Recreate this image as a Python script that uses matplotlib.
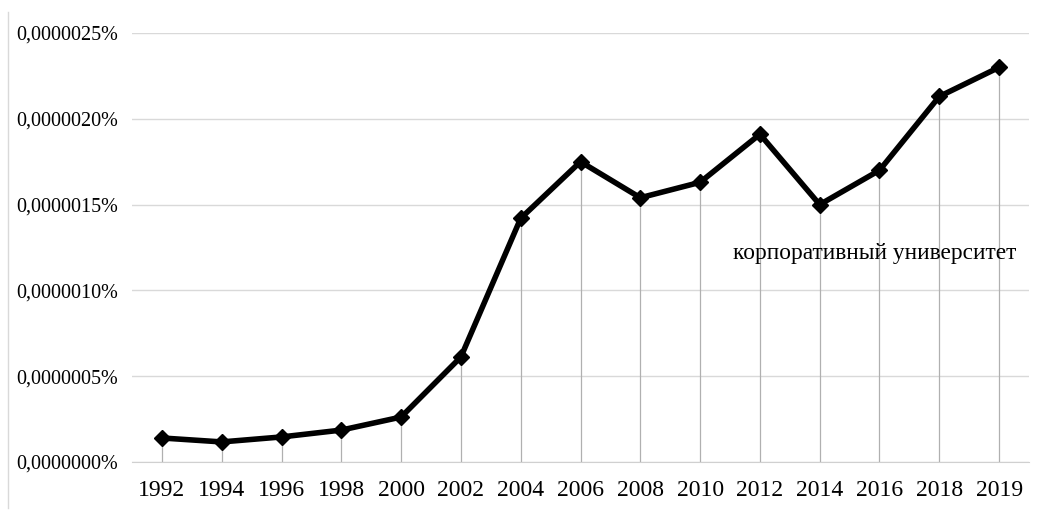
import matplotlib
matplotlib.use("Agg")
import matplotlib.pyplot as plt
from matplotlib.ticker import FuncFormatter
from matplotlib.lines import Line2D

plt.rcParams['font.family'] = ['Liberation Serif', 'DejaVu Serif']

years = ['1992', '1994', '1996', '1998', '2000', '2002', '2004', '2006',
         '2008', '2010', '2012', '2014', '2016', '2018', '2019']
# частота, % (×1e-7)
freq = [1.40, 1.17, 1.46, 1.86, 2.62, 6.12, 14.2, 17.5,
        15.4, 16.3, 19.1, 15.0, 17.0, 21.3, 23.0]
freq = [v * 1e-7 for v in freq]
label = 'корпоративный университет'

fig = plt.figure(figsize=(10.37, 5.11), dpi=100)
ax = fig.add_axes([132 / 1037, 1 - 462 / 511, (1029 - 132) / 1037, (462 - 33) / 511])

x = list(range(len(years)))
ax.vlines(x, 0, freq, color='#b0b0b0', lw=0.9, zorder=1)
ax.plot(x, freq, color='black', lw=4, marker='D', ms=8, zorder=3)

ax.set_xlim(-0.5, len(years) - 0.5)
ax.set_ylim(0, 2.5e-6)
ax.set_yticks([i * 0.5e-6 for i in range(6)])
ax.yaxis.set_major_formatter(FuncFormatter(
    lambda v, p: ('%.7f' % v).replace('.', ',') + '%'))
ax.set_xticks(x)
ax.set_xticklabels(years)
ax.grid(axis='y', color='#d9d9d9', lw=1)
ax.set_axisbelow(True)
for s in ['top', 'right', 'left']:
    ax.spines[s].set_visible(False)
ax.spines['bottom'].set_color('#d0d0d0')
ax.tick_params(axis='y', length=0, pad=10, labelsize=14.5)
ax.tick_params(axis='x', length=0, pad=13, labelsize=17)

ax.text(0.670, 0.487, label, transform=ax.transAxes, fontsize=16.8,
        ha='left', va='center')

fig.add_artist(Line2D([8 / 1037, 8 / 1037], [1 - 12 / 511, 1 - 508 / 511],
                      color='#d9d9d9', lw=1))

fig.savefig('out.png', dpi=100, facecolor='white')
